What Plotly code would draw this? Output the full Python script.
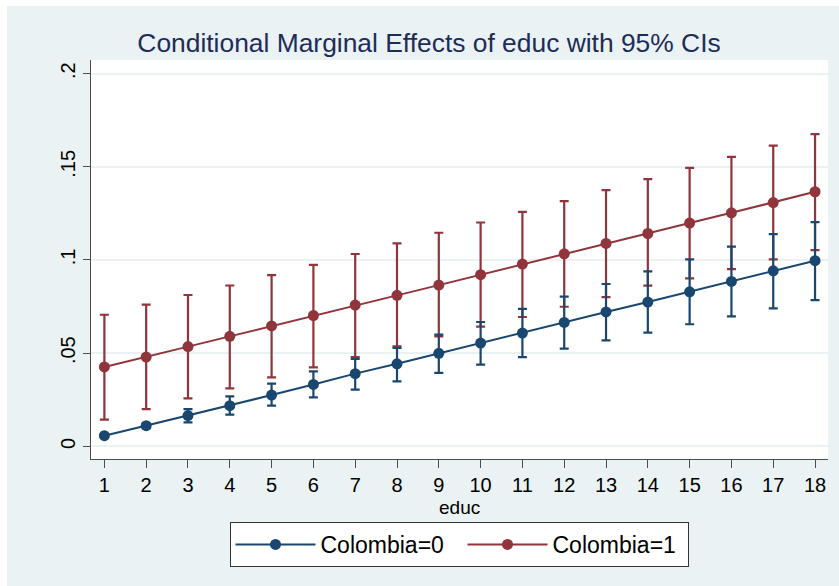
import plotly.graph_objects as go

# Predictive margins of educ, by Colombia status
educ = list(range(1, 19))

col0_est = [0.0057, 0.0111, 0.0165, 0.0218, 0.0275, 0.0332, 0.0390, 0.0443, 0.0499,
            0.0554, 0.0608, 0.0665, 0.0721, 0.0774, 0.0829, 0.0885, 0.0942, 0.0996]
col0_lo = [0.0052, 0.0097, 0.0128, 0.0170, 0.0218, 0.0263, 0.0304, 0.0349, 0.0394,
           0.0438, 0.0479, 0.0524, 0.0568, 0.0610, 0.0655, 0.0697, 0.0740, 0.0785]
col0_hi = [0.0062, 0.0122, 0.0200, 0.0268, 0.0336, 0.0402, 0.0469, 0.0528, 0.0599,
           0.0667, 0.0738, 0.0803, 0.0871, 0.0939, 0.1003, 0.1072, 0.1139, 0.1203]

col1_est = [0.0426, 0.0479, 0.0535, 0.0590, 0.0646, 0.0702, 0.0758, 0.0810, 0.0865,
            0.0921, 0.0978, 0.1033, 0.1089, 0.1142, 0.1198, 0.1253, 0.1308, 0.1366]
col1_lo = [0.0143, 0.0200, 0.0257, 0.0311, 0.0370, 0.0424, 0.0479, 0.0536, 0.0590,
           0.0642, 0.0694, 0.0749, 0.0801, 0.0862, 0.0901, 0.0951, 0.1003, 0.1053]
col1_hi = [0.0706, 0.0760, 0.0812, 0.0863, 0.0919, 0.0974, 0.1032, 0.1089, 0.1146,
           0.1201, 0.1258, 0.1316, 0.1375, 0.1434, 0.1494, 0.1553, 0.1614, 0.1675]

y_ticks = [0, 0.05, 0.1, 0.15, 0.2]
y_ticktext = ["0", ".05", ".1", ".15", ".2"]

NAVY = "#1a476f"
MAROON = "#90353b"
BG = "#eaf2f3"
FONT = "Liberation Sans, Arial, sans-serif"

# plot-area geometry in pixels
W, H = 839, 586
ML, MR, MT, MB = 91, 11, 60, 127
PW, PH = W - ML - MR, H - MT - MB


def ci_trace(name, est, lo, hi, color, rank, entry_w):
    return go.Scatter(
        x=educ, y=est, name=name, mode="lines+markers",
        line=dict(color=color, width=2),
        marker=dict(color=color, size=11),
        error_y=dict(
            type="data", symmetric=False,
            array=[h - e for h, e in zip(hi, est)],
            arrayminus=[e - l for e, l in zip(est, lo)],
            color=color, thickness=2.2, width=4.5,
        ),
        legendrank=rank,
        legendwidth=entry_w,
    )


fig = go.Figure()
fig.add_trace(ci_trace("Colombia=1", col1_est, col1_lo, col1_hi, MAROON, 2, 130))
fig.add_trace(ci_trace("Colombia=0", col0_est, col0_lo, col0_hi, NAVY, 1, 137))

axis_line = "#4d4d4d"
fig.update_layout(
    width=W, height=H,
    margin=dict(l=ML, r=MR, t=MT, b=MB),
    paper_bgcolor=BG, plot_bgcolor="white",
    font=dict(family=FONT, color="#000000", size=20),
    title=dict(
        text="Conditional Marginal Effects of educ with 95% CIs",
        font=dict(family=FONT, size=26.4, color="#1e2c5a"),
        x=(429 - ML) / PW, xanchor="center", xref="paper",
        y=1 - 43 / H, yanchor="middle", yref="container",
    ),
    xaxis=dict(
        range=[0.68, 18.31], tickvals=educ,
        showline=True, linecolor=axis_line, linewidth=1.3,
        ticks="outside", ticklen=8, tickcolor=axis_line, tickwidth=1.3,
        showgrid=False, zeroline=False,
        tickfont=dict(size=20),
    ),
    yaxis=dict(
        range=[-0.0068, 0.2073], tickvals=y_ticks, ticktext=y_ticktext,
        tickangle=-90,
        showline=True, linecolor=axis_line, linewidth=1.3,
        ticks="outside", ticklen=7, tickcolor=axis_line, tickwidth=1.3,
        showgrid=True, gridcolor=BG, gridwidth=1.5, zeroline=False,
        tickfont=dict(size=20),
    ),
    annotations=[
        dict(text="educ", xref="paper", yref="paper",
             x=0.5, y=-(495 - (H - MB)) / PH, xanchor="center", yanchor="top",
             showarrow=False, font=dict(size=19)),
    ],
    legend=dict(
        orientation="h", x=(459 - ML) / PW, xanchor="center",
        y=-63 / PH, yanchor="top",
        bgcolor="white", bordercolor="#333333", borderwidth=1,
        font=dict(size=23), itemwidth=80,
        traceorder="normal",
    ),
    shapes=[
        dict(type="rect", xref="paper", yref="paper", layer="below",
             x0=-ML / PW, x1=(W - ML) / PW, y0=1 + (MT - 6) / PH, y1=1 + MT / PH,
             fillcolor="white", line=dict(width=0)),
        dict(type="rect", xref="paper", yref="paper", layer="below",
             x0=-ML / PW, x1=-(ML - 7) / PW, y0=-MB / PH, y1=1 + MT / PH,
             fillcolor="white", line=dict(width=0)),
    ],
)

fig.write_html("out.html")
